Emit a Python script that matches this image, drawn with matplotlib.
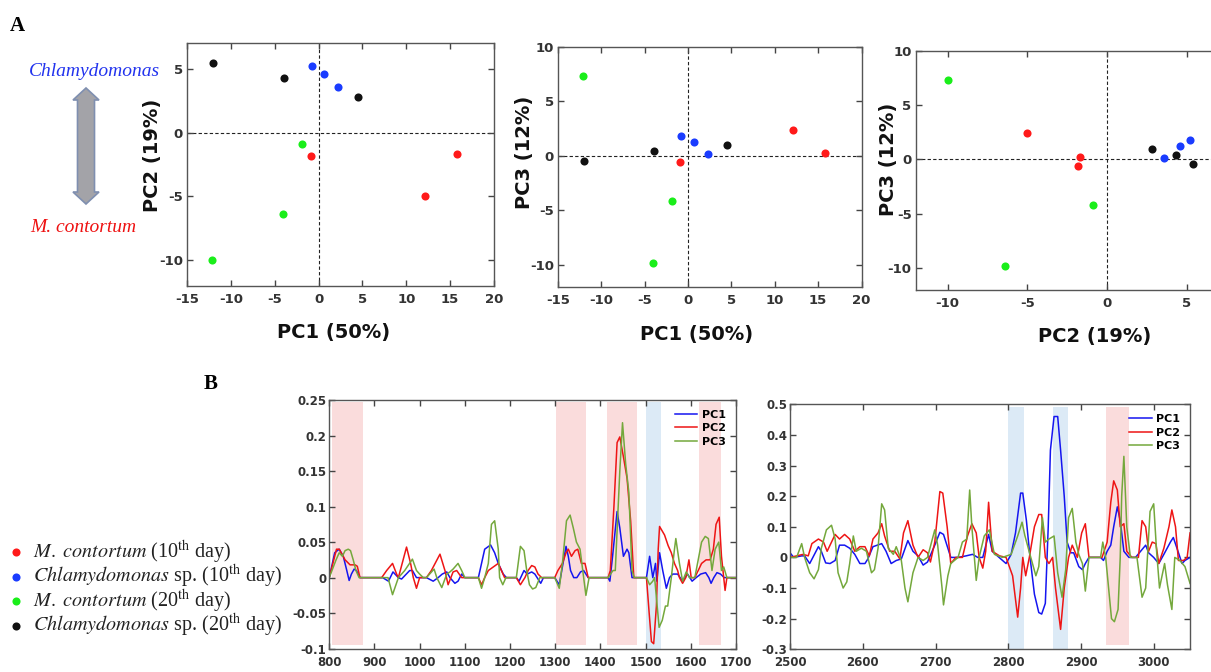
import matplotlib
matplotlib.use("Agg")
import matplotlib.pyplot as plt
from matplotlib.patches import Polygon

plt.rcParams['font.family'] = ['DejaVu Sans']
plt.rcParams['axes.unicode_minus'] = False
plt.rcParams['mathtext.fontset'] = 'stix'

# PCA scores (PC1, PC2, PC3), 3 replicates per group
mc10_pc1 = [-0.9, 12.1, 15.75]
mc10_pc2 = [-1.85, -5.0, -1.7]
mc10_pc3 = [-0.6, 2.4, 0.22]
ch10_pc1 = [-0.8, 0.65, 2.25]
ch10_pc2 = [5.2, 4.55, 3.55]
ch10_pc3 = [1.8, 1.22, 0.13]
mc20_pc1 = [-1.85, -4.1, -12.1]
mc20_pc2 = [-0.86, -6.4, -10.0]
mc20_pc3 = [-4.17, -9.84, 7.3]
ch20_pc1 = [-12.0, -3.9, 4.5]
ch20_pc2 = [5.4, 4.3, 2.8]
ch20_pc3 = [-0.46, 0.4, 1.0]

group_labels = [r"$\mathit{M.\ contortum}$ (10$^{\mathrm{th}}$ day)",
                r"$\mathit{Chlamydomonas}$ sp. (10$^{\mathrm{th}}$ day)",
                r"$\mathit{M.\ contortum}$ (20$^{\mathrm{th}}$ day)",
                r"$\mathit{Chlamydomonas}$ sp. (20$^{\mathrm{th}}$ day)"]
group_colors = ['#ff1a1a', '#1a3cff', '#1aee1a', '#111111']

# loadings, 800-1700 cm-1
low_pc1 = [(800, 0), (812, .035), (822, .04), (831, .03), (838, .012), (844, -.004), (849, .005),
           (855, .012), (860, .01), (868, 0), (918, 0), (931, -.005), (941, .008), (953, 0),
           (960, -.002), (978, .01), (984, .01), (993, 0), (1015, 0), (1030, -.005), (1041, 0),
           (1050, .005), (1060, .008), (1067, 0), (1078, -.008), (1085, -.005), (1093, .005),
           (1100, 0), (1130, 0), (1137, .02), (1144, .04), (1157, .046), (1166, .035), (1174, .02),
           (1185, .005), (1192, 0), (1214, 0), (1220, -.005), (1231, .01), (1238, .005),
           (1248, .008), (1255, .005), (1268, -.008), (1274, 0), (1299, 0), (1309, -.01),
           (1324, .044), (1329, .03), (1334, .01), (1341, 0), (1348, 0), (1356, .008), (1363, .01),
           (1373, 0), (1417, 0), (1421, -.005), (1427, .03), (1437, .093), (1443, .07), (1451, .03),
           (1459, .04), (1463, .035), (1470, 0), (1502, 0), (1509, .03), (1516, 0), (1522, .02),
           (1525, -.005), (1531, .035), (1538, .01), (1546, -.015), (1553, 0), (1560, .005),
           (1571, .005), (1582, -.005), (1593, .005), (1603, -.005), (1612, 0), (1622, .005),
           (1633, .007), (1640, 0), (1645, -.008), (1651, 0), (1658, .007), (1666, .005),
           (1674, 0), (1700, 0)]
low_pc2 = [(800, 0), (816, .04), (822, .04), (835, .025), (846, .018), (857, .018), (862, .016),
           (868, 0), (916, 0), (927, .01), (940, .02), (949, .005), (953, 0), (971, .043),
           (980, .02), (986, 0), (993, -.015), (1000, 0), (1015, 0), (1026, .01), (1045, .033),
           (1056, .01), (1063, -.01), (1074, .008), (1082, .01), (1093, 0), (1130, 0),
           (1137, -.01), (1144, 0), (1152, .01), (1163, .015), (1174, .02), (1181, .01), (1188, 0),
           (1214, 0), (1223, -.01), (1233, 0), (1240, .01), (1248, .017), (1255, .015),
           (1262, .005), (1270, 0), (1299, 0), (1306, .01), (1316, .02), (1324, .035), (1329, .04),
           (1336, .03), (1344, .038), (1350, .04), (1358, .02), (1366, .02), (1373, 0), (1417, 0),
           (1422, .01), (1430, .1), (1437, .19), (1443, .198), (1451, .17), (1459, .14),
           (1467, .08), (1474, 0), (1502, 0), (1508, -.05), (1513, -.09), (1518, -.093),
           (1524, -.04), (1528, .04), (1531, .072), (1542, .06), (1550, .045), (1557, .035),
           (1564, .02), (1571, .01), (1575, 0), (1582, -.008), (1589, 0), (1596, .025), (1601, 0),
           (1609, 0), (1624, .02), (1634, .025), (1643, .025), (1650, .04), (1656, .075),
           (1663, .085), (1668, .03), (1676, -.018), (1680, 0), (1700, 0)]
low_pc3 = [(800, 0), (815, .025), (822, .035), (829, .03), (835, .038), (842, .04), (847, .038),
           (853, .025), (859, .01), (866, 0), (918, 0), (930, 0), (940, -.024), (953, 0),
           (967, .01), (984, .026), (993, .01), (1000, .005), (1008, 0), (1015, 0), (1032, .012),
           (1038, 0), (1049, -.014), (1060, .005), (1067, .008), (1074, .012), (1085, .02),
           (1093, .01), (1100, 0), (1130, 0), (1137, -.015), (1144, 0), (1152, .02), (1159, .075),
           (1166, .08), (1174, .04), (1177, 0), (1184, -.01), (1191, 0), (1214, 0), (1223, .044),
           (1231, .038), (1237, .01), (1243, -.01), (1250, -.016), (1257, -.014), (1266, 0),
           (1299, 0), (1309, -.015), (1316, .02), (1325, .08), (1333, .088), (1340, .07),
           (1347, .05), (1355, .04), (1361, .01), (1368, -.025), (1375, 0), (1417, 0),
           (1428, .01), (1433, .01), (1443, .15), (1449, .218), (1456, .16), (1463, .12),
           (1470, .01), (1475, 0), (1502, 0), (1509, -.01), (1516, -.005), (1520, 0),
           (1530, -.07), (1537, -.06), (1544, -.04), (1549, -.04), (1557, 0), (1564, .04),
           (1567, .055), (1575, .02), (1582, -.005), (1590, .008), (1597, 0), (1609, 0),
           (1624, .05), (1632, .058), (1639, .055), (1647, .01), (1654, .04), (1662, .05),
           (1668, .01), (1673, .015), (1680, 0), (1700, 0)]

# loadings, 2500-3050 cm-1
high_pc1 = [(2500, .015), (2505, 0), (2516, .005), (2520, .005), (2527, -.02), (2539, .035),
            (2543, .02), (2549, -.018), (2555, -.02), (2562, -.01), (2568, .04), (2575, .04),
            (2582, .03), (2589, .01), (2596, -.02), (2603, -.02), (2607, -.005), (2614, .035),
            (2626, .045), (2632, .02), (2639, -.02), (2646, -.01), (2653, -.005), (2662, .055),
            (2669, .02), (2676, .005), (2683, -.025), (2689, -.015), (2699, .04), (2706, .082),
            (2711, .075), (2717, .03), (2721, 0), (2731, 0), (2742, .005), (2751, .01),
            (2758, 0), (2765, 0), (2773, .075), (2778, .02), (2785, .005), (2797, -.02),
            (2804, .01), (2810, .08), (2817, .21), (2820, .21), (2825, .12), (2830, 0),
            (2836, -.12), (2842, -.18), (2846, -.185), (2851, -.15), (2855, .1), (2858, .35),
            (2863, .46), (2868, .46), (2872, .35), (2877, .2), (2881, .05), (2886, .015),
            (2890, .015), (2897, -.03), (2902, -.04), (2906, -.02), (2911, 0), (2927, 0),
            (2931, -.01), (2936, .02), (2941, .04), (2945, .1), (2950, .165), (2954, .12),
            (2959, .02), (2966, 0), (2975, 0), (2982, .02), (2989, .04), (2993, .015), (3000, 0),
            (3007, -.02), (3014, .01), (3023, .05), (3027, .065), (3032, .03), (3039, -.02),
            (3043, -.01), (3050, 0)]
high_pc2 = [(2500, 0), (2509, .005), (2518, .01), (2525, .005), (2530, .045), (2539, .06),
            (2546, .05), (2551, .02), (2557, .05), (2562, .075), (2568, .06), (2575, .075),
            (2582, .06), (2589, .02), (2596, .035), (2603, .035), (2609, .005), (2614, .06),
            (2621, .08), (2626, .11), (2630, .07), (2637, .02), (2644, .02), (2651, -.005),
            (2656, .08), (2662, .12), (2669, .04), (2676, 0), (2683, .025), (2689, .015),
            (2693, -.015), (2699, .05), (2706, .215), (2710, .21), (2716, .1), (2721, -.02),
            (2728, 0), (2737, 0), (2744, .07), (2750, .11), (2756, .08), (2760, 0), (2765, -.035),
            (2769, .02), (2773, .18), (2778, .02), (2788, .005), (2797, 0), (2806, -.06),
            (2813, -.195), (2817, -.1), (2820, 0), (2824, -.06), (2829, 0), (2836, .1),
            (2842, .14), (2846, .14), (2851, 0), (2856, -.02), (2861, 0), (2865, -.1),
            (2872, -.235), (2877, -.1), (2883, 0), (2888, .04), (2895, 0), (2901, .08),
            (2906, .11), (2911, 0), (2929, 0), (2936, .05), (2941, .18), (2945, .25), (2950, .22),
            (2954, .1), (2959, .11), (2963, .02), (2970, 0), (2979, 0), (2984, .12), (2989, .1),
            (2993, .02), (2998, .05), (3003, .045), (3007, -.02), (3014, .03), (3021, .1),
            (3025, .155), (3030, .1), (3034, -.01), (3041, -.01), (3046, 0), (3050, .08)]
high_pc3 = [(2500, 0), (2509, 0), (2516, .045), (2520, 0), (2527, -.05), (2533, -.07),
            (2539, -.04), (2543, .03), (2550, .09), (2557, .105), (2562, .06), (2566, -.05),
            (2573, -.1), (2578, -.08), (2582, -.02), (2587, .07), (2591, .02), (2598, .03),
            (2605, .02), (2612, -.05), (2616, -.04), (2621, .03), (2626, .175), (2630, .155),
            (2635, .03), (2642, .01), (2646, .035), (2653, -.01), (2658, -.1), (2662, -.145),
            (2669, -.05), (2676, 0), (2683, -.01), (2689, 0), (2699, .09), (2703, .04),
            (2709, -.1), (2711, -.155), (2717, -.06), (2721, -.02), (2731, 0), (2737, .05),
            (2743, .06), (2747, .22), (2750, .1), (2756, -.075), (2760, 0), (2767, .07),
            (2774, .09), (2781, .01), (2792, 0), (2804, .01), (2813, .07), (2819, .115),
            (2823, .07), (2831, 0), (2838, -.06), (2842, -.03), (2847, .13), (2851, .05),
            (2856, .06), (2863, .07), (2868, -.05), (2874, -.13), (2879, -.04), (2883, .13),
            (2888, .16), (2893, .05), (2897, .01), (2902, -.02), (2906, -.11), (2911, 0),
            (2927, 0), (2930, .05), (2934, 0), (2938, -.1), (2942, -.2), (2946, -.21),
            (2951, -.17), (2954, 0), (2956, .2), (2959, .33), (2963, .1), (2968, 0), (2977, 0),
            (2984, -.13), (2989, -.1), (2995, .15), (3000, .175), (3004, .02), (3008, -.1),
            (3015, -.02), (3019, -.09), (3025, -.17), (3029, 0), (3036, -.01), (3043, -.03),
            (3050, -.085)]

low_pink = [(807, 874), (1301, 1368), (1414, 1480), (1618, 1668)]
low_blue = [(1500, 1535)]
high_pink = [(2935, 2966)]
high_blue = [(2800, 2821), (2861, 2882)]

low_yticks = [-0.1, -0.05, 0, 0.05, 0.1, 0.15, 0.2, 0.25]
low_ylabels = ['-0.1', '-0.05', '0', '0.05', '0.1', '0.15', '0.2', '0.25']
high_yticks = [-0.3, -0.2, -0.1, 0, 0.1, 0.2, 0.3, 0.4, 0.5]
high_ylabels = ['-0.3', '-0.2', '-0.1', '0', '0.1', '0.2', '0.3', '0.4', '0.5']

pc_colors = ['#1515f0', '#ee1515', '#74a83c']
pc_names = ['PC1', 'PC2', 'PC3']

fig = plt.figure(figsize=(12.11, 6.72), dpi=100)

# overlay in pixel coordinates for labels and the arrow
ov = fig.add_axes([0, 0, 1, 1])
ov.set_xlim(0, 1211)
ov.set_ylim(672, 0)
ov.axis('off')

serif = ['Liberation Serif', 'DejaVu Serif']


def style(ax, size=9.5):
    ax.tick_params(direction='in', top=True, right=True, length=4, width=1,
                   color='#444444', labelsize=size, labelcolor='#333333')
    for s in ax.spines.values():
        s.set_color('#555555')
        s.set_linewidth(1.0)
    for lbl in ax.get_xticklabels() + ax.get_yticklabels():
        lbl.set_fontweight('bold')


def scores(ax, xs, ys, xlab, ylab, xlim, ylim, xticks, yticks):
    ax.axhline(0, color='#222222', ls=(0, (3, 2)), lw=0.8, zorder=1)
    ax.axvline(0, color='#222222', ls=(0, (3, 2)), lw=0.8, zorder=1)
    for x, y, c in zip(xs, ys, group_colors):
        ax.scatter(x, y, s=34, color=c, zorder=3, linewidths=0)
    ax.set_xlim(*xlim)
    ax.set_ylim(*ylim)
    ax.set_xticks(xticks)
    ax.set_yticks(yticks)
    ax.set_xlabel(xlab, fontsize=14, fontweight='bold', color='#111111')
    ax.set_ylabel(ylab, fontsize=14, fontweight='bold', color='#111111')
    style(ax)
    ax.tick_params(axis='x', pad=5)
    ax.tick_params(axis='y', pad=3)


pc1_all = [mc10_pc1, ch10_pc1, mc20_pc1, ch20_pc1]
pc2_all = [mc10_pc2, ch10_pc2, mc20_pc2, ch20_pc2]
pc3_all = [mc10_pc3, ch10_pc3, mc20_pc3, ch20_pc3]

a1 = fig.add_axes([0.1544, 0.5744, 0.2535, 0.3616])
scores(a1, pc1_all, pc2_all, 'PC1 (50%)', 'PC2 (19%)', (-15, 20), (-12, 7),
       [-15, -10, -5, 0, 5, 10, 15, 20], [-10, -5, 0, 5])
a1.xaxis.set_label_coords(0.479, -0.152)
a1.yaxis.set_label_coords(-0.081, 0.539)

a2 = fig.add_axes([0.4608, 0.5734, 0.2506, 0.3571])
scores(a2, pc1_all, pc3_all, 'PC1 (50%)', 'PC3 (12%)', (-15, 20), (-12, 10),
       [-15, -10, -5, 0, 5, 10, 15, 20], [-10, -5, 0, 5, 10])
a2.xaxis.set_label_coords(0.455, -0.16)
a2.yaxis.set_label_coords(-0.079, 0.561)

a3 = fig.add_axes([0.7562, 0.5685, 0.2633, 0.3561])
scores(a3, pc2_all, pc3_all, 'PC2 (19%)', 'PC3 (12%)', (-12, 8), (-12, 10),
       [-10, -5, 0, 5], [-10, -5, 0, 5, 10])
a3.xaxis.set_label_coords(0.562, -0.153)
a3.yaxis.set_label_coords(-0.056, 0.547)


def loadings(ax, series, pinks, blues, xlim, ylim, xticks, yticks, ylabels, span):
    for a, b in pinks:
        ax.axvspan(a, b, ymin=span[0], ymax=span[1], color='#fadcdc', lw=0, zorder=0)
    for a, b in blues:
        ax.axvspan(a, b, ymin=0.0, ymax=span[1], color='#dceaf6', lw=0, zorder=0)
    for pts, c, n in zip(series, pc_colors, pc_names):
        x, y = zip(*pts)
        ax.plot(x, y, color=c, lw=1.1, label=n)
    ax.set_xlim(*xlim)
    ax.set_ylim(*ylim)
    ax.set_xticks(xticks)
    ax.set_yticks(yticks)
    ax.set_yticklabels(ylabels)
    style(ax, 8.5)
    ax.tick_params(axis='x', pad=5)
    ax.tick_params(axis='y', pad=2)
    ax.legend(loc='upper right', frameon=False, handlelength=2.0,
              handletextpad=0.4, labelspacing=0.3, borderaxespad=0.5,
              prop={'size': 8, 'weight': 'bold'})


b1 = fig.add_axes([0.2719, 0.0347, 0.3358, 0.3701])
loadings(b1, [low_pc1, low_pc2, low_pc3], low_pink, low_blue, (800, 1700), (-0.1, 0.25),
         list(range(800, 1701, 100)), low_yticks, low_ylabels, (0.015, 0.993))

b2 = fig.add_axes([0.6524, 0.0338, 0.3303, 0.3646])
loadings(b2, [high_pc1, high_pc2, high_pc3], high_pink, high_blue, (2500, 3050), (-0.3, 0.5),
         list(range(2500, 3001, 100)), high_yticks, high_ylabels, (0.018, 0.99))

# panel letters and group annotations
ov.text(10, 26, 'A', family=serif, fontsize=15, weight='bold', va='center')
ov.text(204, 384, 'B', family=serif, fontsize=15, weight='bold', va='center')
ov.text(94, 71, 'Chlamydomonas', family=serif, style='italic',
        fontsize=14, color='#2233ee', ha='center', va='center')
ov.text(83, 227, 'M. contortum', family=serif, style='italic',
        fontsize=14, color='#ee1111', ha='center', va='center')
arrow = Polygon([(86, 88), (99, 100), (94.5, 100), (94.5, 192), (99, 192), (86, 204),
                 (73, 192), (77.5, 192), (77.5, 100), (73, 100)], closed=True,
                facecolor='#a3a3a8', edgecolor='#7f8fb0', lw=1.2)
ov.add_patch(arrow)

# sample legend
for i, (lab, c) in enumerate(zip(group_labels, group_colors)):
    y = 552 + i * 24.5
    ov.scatter(16, y, s=34, color=c, linewidths=0)
    ov.text(33, y, lab, family=serif, fontsize=14.5, va='center', color='#222222')

fig.savefig('out.png', dpi=100)
